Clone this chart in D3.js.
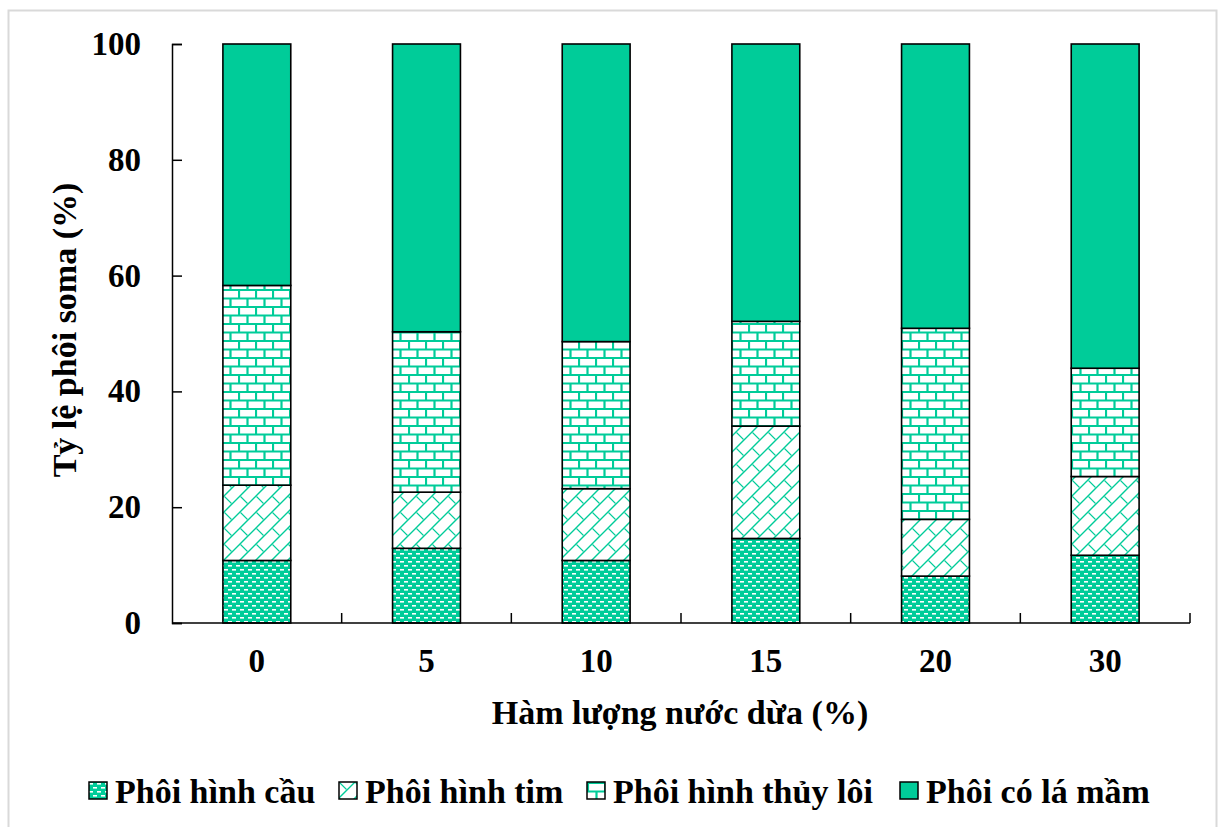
<html>
<head>
  <meta charset="utf-8">
  <title>phoi soma</title>
  <script src="https://d3js.org/d3.v7.min.js"></script>
  <style>
    body { margin: 0; background: #fff; }
    text { font-family: "Liberation Serif", "Times New Roman", serif; font-weight: bold; fill: #000; }
  </style>
</head>
<body>
<div id="chart"></div>
<script>
  // data
  var levels = ["0", "5", "10", "15", "20", "30"];
  var cau = [10.8, 12.9, 10.8, 14.6, 8.1, 11.7];
  var tim = [13.0, 9.7, 12.4, 19.4, 9.8, 13.6];
  var thuyLoi = [34.5, 27.7, 25.4, 18.1, 33.0, 18.7];
  var laMam = [41.7, 49.7, 51.4, 47.9, 49.1, 56.0];
  var seriesNames = ["Phôi hình cầu", "Phôi hình tim", "Phôi hình thủy lôi", "Phôi có lá mầm"];
  var yTicks = [0, 20, 40, 60, 80, 100];

  var green = "#00cc99";
  var W = 1224, H = 827;

  var svg = d3.select("#chart").append("svg")
    .attr("width", W).attr("height", H);

  // frame
  svg.append("rect")
    .attr("x", 8.5).attr("y", 10.5)
    .attr("width", 1208).attr("height", 830)
    .attr("fill", "none").attr("stroke", "#d9d9d9").attr("stroke-width", 2);

  // patterns
  var defs = svg.append("defs");

  var p1 = defs.append("pattern").attr("id", "pCau")
    .attr("patternUnits", "userSpaceOnUse").attr("width", 8).attr("height", 8);
  p1.append("rect").attr("width", 8).attr("height", 8).attr("fill", green);
  p1.append("rect").attr("x", 0).attr("y", 1).attr("width", 4).attr("height", 1.6).attr("fill", "#fff");
  p1.append("rect").attr("x", 4).attr("y", 5).attr("width", 4).attr("height", 1.6).attr("fill", "#fff");

  var p2 = defs.append("pattern").attr("id", "pTim")
    .attr("patternUnits", "userSpaceOnUse").attr("width", 16).attr("height", 16);
  p2.append("rect").attr("width", 16).attr("height", 16).attr("fill", "#fff");
  p2.append("path")
    .attr("d", "M-2,18L18,-2M-2,2L2,-2M14,18L18,14")
    .attr("stroke", green).attr("stroke-width", 1.4).attr("fill", "none");
  p2.append("path")
    .attr("d", "M0.5,0.5L7.5,7.5")
    .attr("stroke", green).attr("stroke-width", 1.1).attr("fill", "none");

  var p3 = defs.append("pattern").attr("id", "pThuy")
    .attr("patternUnits", "userSpaceOnUse").attr("width", 17).attr("height", 17);
  p3.append("rect").attr("width", 17).attr("height", 17).attr("fill", "#fff");
  p3.append("path")
    .attr("d", "M0,1H17M0,9.5H17M1,1V9.5M9.5,9.5V17")
    .attr("stroke", green).attr("stroke-width", 2.2).attr("fill", "none");

  var fills = ["url(#pCau)", "url(#pTim)", "url(#pThuy)", green];

  // scales
  var x = d3.scaleBand().domain(levels).range([172, 1190])
    .paddingInner(0.6).paddingOuter(0.3);
  var y = d3.scaleLinear().domain([0, 100]).range([623, 44]);

  var rows = levels.map(function (l, i) {
    return { level: l, cau: cau[i], tim: tim[i], thuy: thuyLoi[i], mam: laMam[i] };
  });
  var stack = d3.stack().keys(["cau", "tim", "thuy", "mam"])(rows);

  svg.append("g").selectAll("g")
    .data(stack).join("g")
    .attr("fill", function (d, i) { return fills[i]; })
    .selectAll("rect")
    .data(function (d) { return d; }).join("rect")
    .attr("x", function (d) { return x(d.data.level); })
    .attr("width", x.bandwidth())
    .attr("y", function (d) { return y(d[1]); })
    .attr("height", function (d) { return y(d[0]) - y(d[1]); })
    .attr("stroke", "#000").attr("stroke-width", 1.6);

  // y axis
  var yAxis = svg.append("g")
    .attr("transform", "translate(172,0)")
    .call(d3.axisLeft(y).tickValues(yTicks).tickSize(-10).tickPadding(31));
  yAxis.select(".domain").attr("stroke", "#000").attr("stroke-width", 1.5);
  yAxis.selectAll("line").attr("stroke-width", 1.5);
  yAxis.selectAll("text").attr("font-size", 33).attr("font-family", "Liberation Serif").attr("font-weight", "bold");

  // x axis
  var xAxis = svg.append("g")
    .attr("transform", "translate(0,623)")
    .call(d3.axisBottom(x).tickSize(0).tickPadding(26));
  xAxis.select(".domain").remove();
  xAxis.selectAll("text").attr("font-size", 33).attr("font-family", "Liberation Serif").attr("font-weight", "bold");

  var gap = (x.step() - x.bandwidth()) / 2;
  var bounds = levels.map(function (l) { return x(l) - gap; }).concat([x(levels[levels.length - 1]) + x.bandwidth() + gap]);
  svg.append("line")
    .attr("x1", 172).attr("x2", bounds[bounds.length - 1])
    .attr("y1", 623).attr("y2", 623)
    .attr("stroke", "#000").attr("stroke-width", 1.5);
  svg.append("g").selectAll("line")
    .data(bounds.slice(1)).join("line")
    .attr("x1", function (d) { return d; }).attr("x2", function (d) { return d; })
    .attr("y1", 623).attr("y2", 613)
    .attr("stroke", "#000").attr("stroke-width", 1.5);

  // axis titles
  svg.append("text")
    .attr("x", 680).attr("y", 724)
    .attr("text-anchor", "middle").attr("font-size", 34)
    .text("Hàm lượng nước dừa (%)");
  svg.append("text")
    .attr("transform", "translate(76,330) rotate(-90)")
    .attr("text-anchor", "middle").attr("font-size", 34)
    .text("Tỷ lệ phôi soma (%)");

  // legend
  var legX = [89, 339, 587, 900];
  var leg = svg.append("g").selectAll("g")
    .data(seriesNames).join("g")
    .attr("transform", function (d, i) { return "translate(" + legX[i] + ",782)"; });
  leg.append("rect")
    .attr("width", 18).attr("height", 17)
    .attr("fill", function (d, i) { return fills[i]; })
    .attr("stroke", "#000").attr("stroke-width", 1.5);
  leg.append("text")
    .attr("x", 26).attr("y", 21)
    .attr("font-size", 34)
    .text(function (d) { return d; });
</script>
</body>
</html>
